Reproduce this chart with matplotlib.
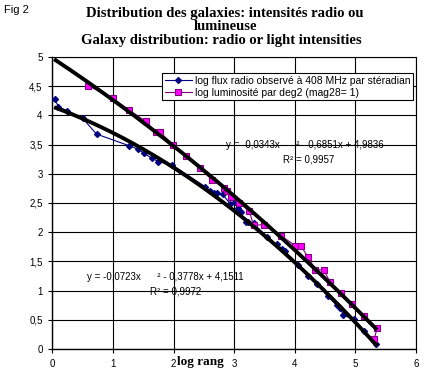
import numpy as np
import matplotlib
matplotlib.use("Agg")
import matplotlib.pyplot as plt

# données
radio_x = [0.04, 0.10, 0.24, 0.50, 0.73, 1.27, 1.42, 1.51, 1.64, 1.75, 1.98,
           2.52, 2.60, 2.67, 2.72, 2.81, 2.93, 3.01, 3.07, 3.11, 3.19, 3.23,
           3.32, 3.54, 3.70, 3.79, 3.84, 4.06, 4.22, 4.36, 4.55, 4.69, 4.75,
           4.80, 4.97, 5.15, 5.34]
radio_y = [4.28, 4.15, 4.08, 3.95, 3.68, 3.48, 3.42, 3.35, 3.27, 3.21, 3.15,
           2.78, 2.71, 2.67, 2.67, 2.65, 2.49, 2.52, 2.41, 2.34, 2.17, 2.18,
           2.15, 1.92, 1.79, 1.72, 1.67, 1.44, 1.25, 1.12, 0.90, 0.75, 0.70,
           0.58, 0.51, 0.30, 0.08]

lum_x = [0.59, 1.00, 1.27, 1.54, 1.71, 1.78, 1.99, 2.20, 2.43, 2.64, 2.84,
         2.88, 2.95, 3.08, 3.25, 3.32, 3.50, 3.77, 4.01, 4.10, 4.22, 4.34,
         4.48, 4.58, 4.76, 4.95, 5.14, 5.36, 5.31]
lum_y = [4.51, 4.29, 4.09, 3.90, 3.71, 3.71, 3.50, 3.30, 3.10, 2.89, 2.76,
         2.71, 2.60, 2.50, 2.36, 2.12, 2.13, 1.94, 1.77, 1.77, 1.57, 1.36,
         1.35, 1.15, 0.96, 0.77, 0.57, 0.36, 0.17]

# tendances polynomiales (coefficients affichés)
coef_lum = [-0.0343, -0.6851, 4.9836]
coef_radio = [-0.0723, -0.3778, 4.1511]

xticks = [0, 1, 2, 3, 4, 5, 6]
yticks = [0, 0.5, 1, 1.5, 2, 2.5, 3, 3.5, 4, 4.5, 5]

titre = ['Distribution des galaxies: intensités radio ou',
         'lumineuse',
         'Galaxy distribution: radio or light intensities']

plt.rcParams['font.family'] = ['Liberation Sans', 'DejaVu Sans']

fig = plt.figure(figsize=(4.28, 3.79), dpi=100)
ax = fig.add_axes([52.3 / 428, 1 - 349 / 379, (416 - 52.3) / 428, (349 - 57) / 379])

ax.plot(radio_x, radio_y, color='#000080', lw=0.8, marker='D', ms=3,
        mfc='#000080', mec='#000080', zorder=3,
        label='log flux radio observé à 408 MHz par stéradian')
ax.plot(lum_x, lum_y, color='#800080', lw=0.8, marker='s', ms=5,
        mfc='#ff00ff', mec='#800080', mew=0.8, zorder=3,
        label='log luminosité par deg2 (mag28= 1)')

xl = np.linspace(0.03, 5.36, 200)
ax.plot(xl, np.polyval(coef_lum, xl), color='black', lw=2.8, zorder=4,
        solid_capstyle='butt')
xr = np.linspace(0.03, 5.36, 200)
ax.plot(xr, np.polyval(coef_radio, xr), color='black', lw=2.8, zorder=4,
        solid_capstyle='butt')

ax.set_xlim(0, 6)
ax.set_ylim(0, 5)
ax.set_xticks(xticks)
ax.set_yticks(yticks)
ax.set_xticklabels([str(v) for v in xticks])
ax.set_yticklabels([str(v).replace('.', ',') if v % 1 else str(int(v)) for v in yticks])
ax.tick_params(direction='out', length=3, width=0.8, labelsize=7, pad=4)
ax.grid(True, color='black', lw=0.8)
ax.set_axisbelow(True)
for s in ['left', 'bottom']:
    ax.spines[s].set_linewidth(1)
for s in ['top', 'right']:
    ax.spines[s].set_linestyle((0, (1, 1)))
    ax.spines[s].set_linewidth(0.8)

leg = ax.legend(loc='upper left', bbox_to_anchor=(0.302, 0.945), fontsize=7.45,
                frameon=True, fancybox=False, edgecolor='black', framealpha=1,
                borderpad=0.28, handlelength=2.6, labelspacing=0.15,
                handletextpad=0.3, borderaxespad=0)
leg.get_frame().set_linewidth(0.8)
leg.set_zorder(5)

ax.text(2.86, 3.5, 'y = -0,0343x      ² - 0,6851x + 4,9836', fontsize=7,
        va='center', ha='left', zorder=5)
ax.text(3.81, 3.25, 'R² = 0,9957', fontsize=7, va='center', ha='left', zorder=5)
ax.text(0.57, 1.24, 'y = -0,0723x      ² - 0,3778x + 4,1511', fontsize=7,
        va='center', ha='left', zorder=5)
ax.text(1.62, 0.98, 'R² = 0,9972', fontsize=7, va='center', ha='left', zorder=5)

fig.text(200 / 428, 1 - 362 / 379, 'log rang', family='Liberation Serif',
         weight='bold', fontsize=9.5, ha='center', va='center')

for ligne, ypix, xpix in zip(titre, [16.7, 30.5, 44], [225, 225, 221]):
    fig.text(xpix / 428, 1 - ypix / 379, ligne, family='Liberation Serif',
             weight='bold', fontsize=10.5, ha='center', va='baseline')
fig.text(4 / 428, 1 - 10 / 379, 'Fig 2', fontsize=8, ha='left', va='center')

fig.savefig('out.png', dpi=100)
